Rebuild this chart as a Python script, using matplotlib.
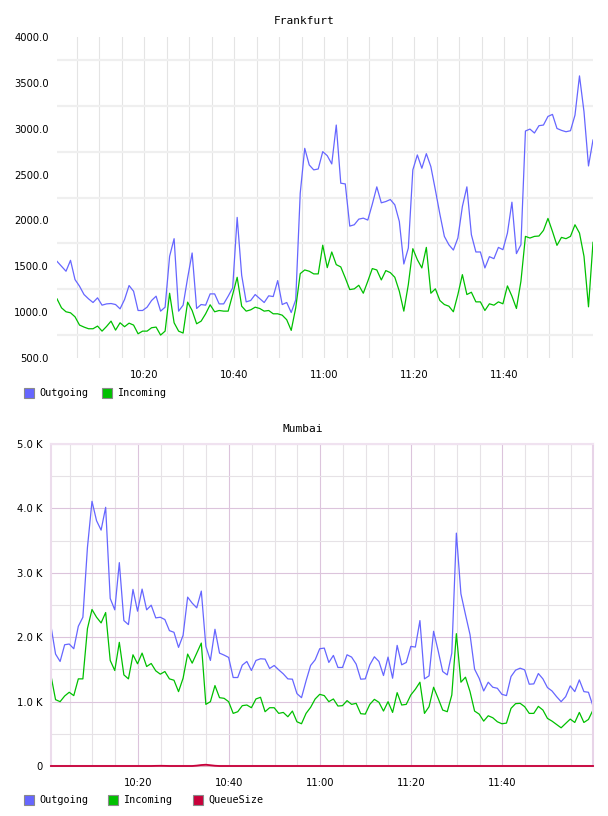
import datetime as dt
import numpy as np
import matplotlib
matplotlib.use("Agg")
import matplotlib.pyplot as plt
import matplotlib.dates as mdates
from matplotlib.ticker import FixedLocator, FuncFormatter
from matplotlib.patches import Rectangle

# --- data (one sample per minute) ---
frank_out = [1554, 1500, 1446, 1565, 1355, 1283, 1192, 1145, 1105, 1156,
             1076, 1090, 1094, 1083, 1036, 1138, 1290, 1228, 1018, 1018,
             1054, 1127, 1174, 1011, 1054, 1609, 1801, 1011, 1076, 1373,
             1645, 1040, 1083, 1076, 1199, 1199, 1090, 1090, 1174, 1264,
             2033, 1402, 1112, 1127, 1192, 1148, 1105, 1178, 1170, 1344,
             1083, 1105, 996, 1134, 2297, 2786, 2605, 2551, 2561, 2750,
             2706, 2616, 3040, 2406, 2398, 1938, 1953, 2014, 2025, 2004,
             2177, 2366, 2192, 2206, 2228, 2170, 1989, 1525, 1699, 2551,
             2714, 2569, 2728, 2587, 2333, 2069, 1826, 1735, 1677, 1808,
             2152, 2366, 1844, 1656, 1656, 1482, 1605, 1583, 1706, 1681,
             1862, 2199, 1638, 1735, 2975, 2996, 2953, 3033, 3040, 3134,
             3156, 3003, 2982, 2967, 2978, 3148, 3576, 3185, 2594, 2877]
frank_in = [1145, 1047, 1004, 993, 949, 859, 837, 819, 819, 848,
            793, 844, 902, 804, 884, 841, 880, 859, 764, 793,
            793, 830, 837, 750, 793, 1206, 884, 793, 772, 1109,
            1018, 873, 902, 982, 1080, 1004, 1018, 1011, 1011, 1192,
            1380, 1065, 1011, 1025, 1054, 1040, 1011, 1018, 982, 982,
            967, 917, 801, 1047, 1420, 1460, 1446, 1417, 1417, 1730,
            1485, 1656, 1518, 1493, 1373, 1246, 1254, 1293, 1206, 1337,
            1475, 1460, 1351, 1453, 1431, 1380, 1228, 1011, 1301, 1692,
            1572, 1482, 1706, 1206, 1254, 1127, 1083, 1065, 1004, 1192,
            1409, 1192, 1217, 1112, 1112, 1018, 1091, 1076, 1112, 1091,
            1286, 1174, 1040, 1337, 1826, 1808, 1826, 1830, 1891, 2022,
            1880, 1728, 1815, 1801, 1826, 1953, 1862, 1609, 1058, 1761]

mum_out = [2170, 1738, 1623, 1883, 1894, 1821, 2170, 2310, 3392, 4110,
           3809, 3663, 4017, 2602, 2425, 3158, 2258, 2196, 2742, 2404,
           2747, 2425, 2497, 2300, 2310, 2274, 2102, 2076, 1842, 2029,
           2622, 2529, 2456, 2716, 1857, 1639, 2123, 1753, 1722, 1686,
           1374, 1374, 1566, 1623, 1483, 1639, 1665, 1660, 1514, 1561,
           1493, 1431, 1353, 1348, 1124, 1061, 1322, 1561, 1649, 1821,
           1831, 1608, 1717, 1530, 1530, 1727, 1691, 1582, 1348, 1353,
           1571, 1696, 1623, 1405, 1691, 1363, 1873, 1571, 1608, 1857,
           1847, 2258, 1353, 1400, 2092, 1790, 1467, 1415, 1753, 3616,
           2674, 2352, 2040, 1504, 1363, 1165, 1301, 1223, 1207, 1113,
           1093, 1389, 1488, 1519, 1493, 1270, 1275, 1436, 1353, 1218,
           1165, 1077, 999, 1077, 1244, 1155, 1337, 1155, 1145, 931]
mum_in = [1400, 1030, 999, 1087, 1145, 1093, 1353, 1353, 2133, 2430,
          2310, 2222, 2383, 1639, 1483, 1920, 1415, 1353, 1727, 1587,
          1753, 1545, 1592, 1478, 1426, 1467, 1353, 1332, 1155, 1363,
          1738, 1597, 1753, 1909, 957, 999, 1249, 1061, 1051, 999,
          817, 843, 937, 947, 905, 1041, 1067, 843, 905, 905,
          817, 832, 765, 853, 687, 656, 817, 911, 1041, 1113,
          1093, 999, 1041, 931, 937, 1015, 957, 973, 812, 806,
          957, 1035, 989, 853, 999, 832, 1139, 947, 957, 1103,
          1192, 1301, 817, 921, 1223, 1051, 869, 843, 1103, 2055,
          1301, 1379, 1155, 853, 806, 697, 780, 749, 687, 656,
          666, 895, 968, 973, 921, 817, 817, 926, 869, 739,
          697, 645, 593, 661, 728, 676, 832, 676, 723, 869]
mum_queue = [0, 0, 0, 0, 0, 0, 0, 0, 0, 0,
             0, 0, 0, 0, 0, 0, 0, 0, 0, 0,
             0, 0, 0, 2, 3, 2, 0, 0, 0, 0,
             0, 0, 6, 15, 20, 12, 4, 0, 0, 0,
             0, 0, 0, 0, 0, 0, 0, 0, 0, 0,
             0, 0, 0, 0, 0, 0, 0, 0, 0, 0,
             0, 0, 0, 0, 0, 0, 0, 0, 0, 0,
             0, 0, 0, 0, 0, 0, 0, 0, 0, 0,
             0, 0, 0, 0, 0, 0, 0, 0, 0, 0,
             0, 0, 0, 0, 0, 0, 0, 0, 0, 0,
             0, 0, 0, 0, 0, 0, 0, 0, 0, 0,
             0, 0, 0, 0, 0, 0, 0, 0, 0, 0]

frank_yticks = [500, 1000, 1500, 2000, 2500, 3000, 3500, 4000]
mum_yticks = [0, 1000, 2000, 3000, 4000, 5000]

frank_start = dt.datetime(2024, 1, 1, 10, 0, 40)
mum_start = dt.datetime(2024, 1, 1, 10, 0, 55)
frank_t = [frank_start + dt.timedelta(minutes=i) for i in range(len(frank_out))]
mum_t = [mum_start + dt.timedelta(minutes=i) for i in range(len(mum_out))]

BLUE = '#6666ff'
GREEN = '#00c000'
RED = '#c8003a'
W, H = 608, 816

fig = plt.figure(figsize=(W / 100, H / 100), dpi=100)


def setup_time_axis(ax):
    ax.xaxis.set_major_locator(mdates.MinuteLocator(byminute=[0, 20, 40]))
    ax.xaxis.set_minor_locator(mdates.MinuteLocator(byminute=range(0, 60, 5)))
    ax.xaxis.set_major_formatter(mdates.DateFormatter('%H:%M'))
    ax.tick_params(axis='both', which='both', length=0, labelsize=7.2, colors='black')
    ax.tick_params(axis='x', pad=9)
    ax.tick_params(axis='y', pad=6)
    ax.set_axisbelow(True)


# --- Frankfurt ---
ax1 = fig.add_axes([57 / W, 1 - 358 / H, 536 / W, 321 / H])
ax1.plot(frank_t, frank_out, color=BLUE, lw=0.9)
ax1.plot(frank_t, frank_in, color=GREEN, lw=0.9)
ax1.set_xlim(frank_t[0], frank_t[-1])
ax1.set_ylim(frank_yticks[0], frank_yticks[-1])
ax1.set_yticks(frank_yticks)
ax1.yaxis.set_minor_locator(FixedLocator(np.array(frank_yticks[:-1]) + 250))
ax1.yaxis.set_major_formatter(FuncFormatter(lambda v, p: f"{v:.1f}"))
setup_time_axis(ax1)
ax1.grid(which='minor', axis='y', color='#efefef', lw=1.6)
ax1.grid(which='both', axis='x', color='#e4e4e4', lw=0.8)
for s in ax1.spines.values():
    s.set_visible(False)
fig.text(304 / W, 1 - 21 / H, 'Frankfurt', ha='center', va='center',
         family='DejaVu Sans Mono', size=8)

# --- Mumbai ---
ax2 = fig.add_axes([51 / W, 1 - 766 / H, 542 / W, 322 / H])
ax2.plot(mum_t, mum_out, color=BLUE, lw=0.9)
ax2.plot(mum_t, mum_in, color=GREEN, lw=0.9)
ax2.plot(mum_t, mum_queue, color=RED, lw=1.3, clip_on=False, zorder=3)
ax2.set_xlim(mum_t[0], mum_t[-1])
ax2.set_ylim(mum_yticks[0], mum_yticks[-1])
ax2.set_yticks(mum_yticks)
ax2.yaxis.set_minor_locator(FixedLocator(np.array(mum_yticks[:-1]) + 500))
ax2.yaxis.set_major_formatter(FuncFormatter(lambda v, p: '0' if v == 0 else f"{v / 1000:.1f} K"))
setup_time_axis(ax2)
ax2.grid(which='major', color='#dcc4dc', lw=0.8)
ax2.grid(which='minor', color='#e6e2e6', lw=0.8)
ax2.spines['left'].set_color('#ecdcec')
ax2.spines['top'].set_color('#f0e2f0')
ax2.spines['right'].set_color('#e8d4e8')
ax2.spines['bottom'].set_color('#e0b0c0')
for s in ax2.spines.values():
    s.set_linewidth(1.5)
fig.text(303 / W, 1 - 429 / H, 'Mumbai', ha='center', va='center',
         family='DejaVu Sans Mono', size=8)


# --- legends ---
def legend_item(x, y, color, label):
    fig.add_artist(Rectangle((x / W, 1 - (y + 5) / H), 10 / W, 10 / H,
                             transform=fig.transFigure, facecolor=color,
                             edgecolor='#8a8a8a', lw=0.8))
    fig.text((x + 15) / W, 1 - y / H, label, va='center',
             family='DejaVu Sans Mono', size=7.3)


legend_item(24, 393, BLUE, 'Outgoing')
legend_item(102, 393, GREEN, 'Incoming')
legend_item(24, 800, BLUE, 'Outgoing')
legend_item(108, 800, GREEN, 'Incoming')
legend_item(193, 800, RED, 'QueueSize')

fig.savefig('out.png', dpi=100)
